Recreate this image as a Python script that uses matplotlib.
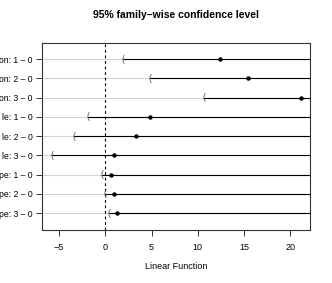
import matplotlib
matplotlib.use("Agg")
import matplotlib.pyplot as plt

plt.rcParams["font.family"] = ["Liberation Sans", "DejaVu Sans"]

# labels as visible in the (left-cropped) reference
labels = ["on: 1 \u2013 0", "on: 2 \u2013 0", "on: 3 \u2013 0",
          "le: 1 \u2013 0", "le: 2 \u2013 0", "le: 3 \u2013 0",
          "pe: 1 \u2013 0", "pe: 2 \u2013 0", "pe: 3 \u2013 0"]
estimate = [12.45, 15.4, 21.15, 4.84, 3.29, 0.94, 0.62, 0.97, 1.3]
lower = [1.92, 4.87, 10.65, -1.84, -3.39, -5.74, -0.39, 0.02, 0.43]

k = len(labels)
ypos = list(range(k, 0, -1))
XMIN, XMAX = -6.85, 22.15

fig = plt.figure(figsize=(3.32, 2.83), dpi=100)
ax = fig.add_axes([0.1265, 0.189, 0.8072, 0.660])

for y in ypos:
    ax.axhline(y, color="#d3d3d3", lw=0.8, zorder=1)
ax.axvline(0, color="black", lw=0.8, ls=(0, (2.5, 2.5)), zorder=2)
for y, lo, est in zip(ypos, lower, estimate):
    ax.plot([lo, XMAX + 5], [y, y], color="black", lw=0.8, zorder=3)
    ax.text(lo, y, "(", ha="center", va="center", fontsize=6.5, color="#555555", zorder=4)
ax.plot(estimate, ypos, "o", color="black", ms=2.2, zorder=5)

ax.set_xlim(XMIN, XMAX)
ax.set_ylim(0.145, k + 0.855)
ax.set_xticks([-5, 0, 5, 10, 15, 20])
ax.set_yticks(ypos)
ax.set_yticklabels(labels, fontsize=6.2)
ax.tick_params(axis="x", labelsize=6.5)
ax.tick_params(axis="both", length=4, width=0.7, color="#333333")
ax.tick_params(axis="x", pad=6)
ax.tick_params(axis="y", pad=2.5)
for s in ax.spines.values():
    s.set_linewidth(0.8)
    s.set_color("#333333")

ax.set_xlabel("Linear Function", fontsize=6.5, labelpad=7)
fig.text(0.53, 0.947, "95% family\u2013wise confidence level", ha="center", va="center",
         fontsize=7.5, fontweight="bold")

fig.savefig("out.png", dpi=100)
